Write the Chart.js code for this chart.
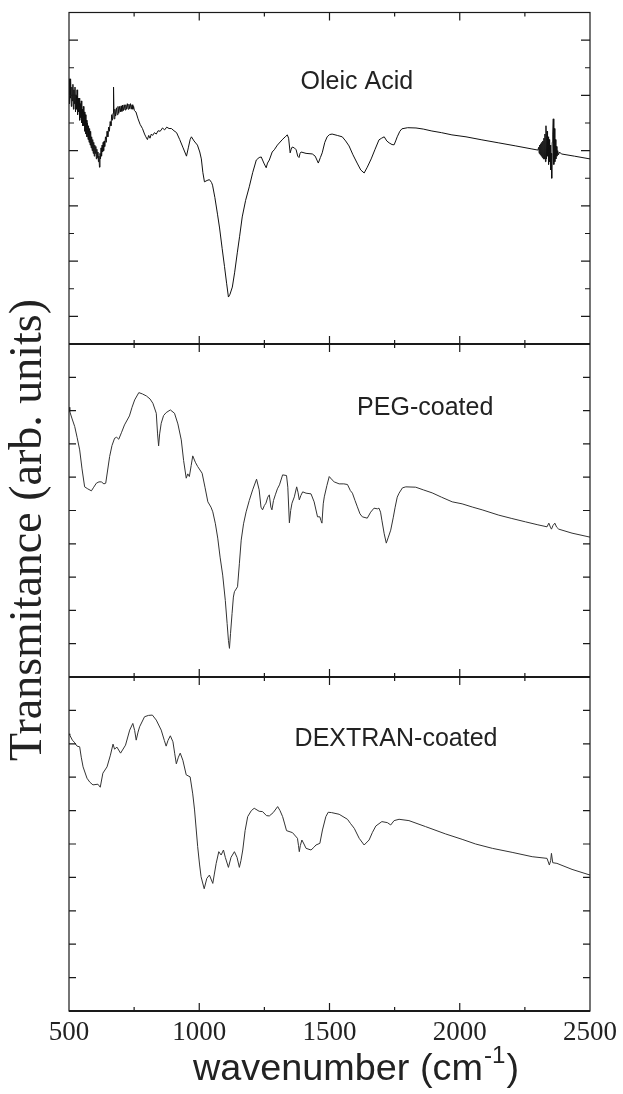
<!DOCTYPE html>
<html lang="en">
<head>
    <meta charset="UTF-8">
    <title>FTIR transmittance</title>
    <script src="https://cdn.jsdelivr.net/npm/chart.js"></script>
    <style>
        body { margin: 0; background: #fff; }
        #wrap { width: 623px; height: 1094px; }
    </style>
</head>
<body>
    <div id="wrap"><canvas id="ftir" width="623" height="1094"></canvas></div>

    <script>
        // wavenumber range and tick step
        const xMin = 500, xMax = 2500, xStep = 250;
        const xLabelStep = 500;

        // panel names (top to bottom)
        const panelNames = ['Oleic Acid', 'PEG-coated', 'DEXTRAN-coated'];
        // y range of each panel (arb. units)
        const panelMax = [12, 10, 10];

        // spectra: [wavenumber, transmittance]
        const oleicAcid = [
            [500, 9.6], [502, 8.7], [504, 9.5], [505, 8.9], [507, 9.6], [509, 8.6], [511, 9.3], [513, 8.8],
            [515, 9.4], [517, 8.5], [519, 9.2], [521, 8.7], [523, 9.3], [525, 8.4], [527, 9.0], [529, 8.5],
            [531, 9.2], [533, 8.3], [535, 8.9], [537, 8.4], [539, 8.9], [541, 8.1], [543, 8.7], [545, 8.2],
            [547, 8.8], [549, 8.0], [551, 8.5], [553, 7.9], [555, 8.6], [557, 7.9], [559, 8.4], [561, 7.7],
            [563, 8.3], [565, 7.6], [567, 8.1], [569, 7.5], [571, 8.0], [573, 7.4], [575, 7.9], [577, 7.3],
            [579, 7.8], [581, 7.2], [583, 7.7], [585, 7.1], [587, 7.5], [589, 7.0], [591, 7.4], [593, 6.9],
            [595, 7.3], [597, 6.8], [599, 7.2], [601, 6.9], [603, 7.15], [605, 6.7], [607, 7.05], [609, 6.75],
            [611, 6.95], [613, 6.6], [615, 6.8], [617, 6.4], [619, 6.9], [621, 6.7], [623, 7.1], [625, 6.8],
            [627, 7.2], [629, 6.95], [631, 7.3], [633, 7.0], [635, 7.35], [637, 7.15], [640, 7.5], [643, 7.3],
            [646, 7.7], [649, 7.5], [652, 7.85], [655, 7.7], [658, 8.05], [661, 7.9], [664, 8.3], [667, 8.1],
            [669, 8.35], [671, 9.3], [673, 8.15], [676, 8.5], [679, 8.25], [682, 8.55], [685, 8.3], [688, 8.6],
            [691, 8.35], [694, 8.6], [697, 8.4], [700, 8.62], [703, 8.42], [706, 8.65], [709, 8.45], [712, 8.66],
            [715, 8.47], [718, 8.66], [721, 8.5], [724, 8.7], [727, 8.5], [730, 8.68], [733, 8.52], [736, 8.7],
            [739, 8.5], [742, 8.66], [745, 8.5], [748, 8.6], [751, 8.45], [757, 8.4], [765, 8.15], [773, 7.95],
            [782, 7.8], [790, 7.6], [795, 7.5], [801, 7.4], [806, 7.55], [811, 7.45], [816, 7.6], [821, 7.55],
            [828, 7.65], [835, 7.6], [842, 7.72], [850, 7.7], [859, 7.82], [867, 7.75], [875, 7.85], [884, 7.8],
            [893, 7.8], [903, 7.72], [913, 7.65], [925, 7.4], [938, 7.1], [951, 6.8], [958, 7.1], [965, 7.4],
            [970, 7.5], [980, 7.35], [993, 7.2], [1002, 6.95], [1008, 6.7], [1014, 6.2], [1020, 5.87], [1030, 5.92],
            [1039, 5.95], [1047, 5.85], [1051, 5.75], [1060, 5.3], [1070, 4.7], [1078, 4.2], [1088, 3.45], [1097, 2.8],
            [1105, 2.2], [1112, 1.7], [1118, 1.8], [1127, 2.06], [1136, 2.6], [1146, 3.3], [1155, 3.9], [1165, 4.6],
            [1178, 5.2], [1192, 5.69], [1205, 6.2], [1219, 6.66], [1230, 6.75], [1238, 6.77], [1248, 6.55], [1257, 6.38],
            [1262, 6.55], [1269, 6.66], [1280, 6.95], [1288, 7.03], [1300, 7.2], [1318, 7.39], [1330, 7.5], [1338, 7.57],
            [1343, 7.45], [1349, 6.92], [1353, 7.05], [1357, 7.13], [1365, 7.1], [1372, 7.03], [1378, 6.8], [1383, 6.75],
            [1387, 6.9], [1391, 6.95], [1410, 6.9], [1434, 6.88], [1445, 6.8], [1457, 6.55], [1465, 6.75], [1472, 6.92],
            [1482, 7.3], [1491, 7.5], [1500, 7.58], [1510, 7.6], [1530, 7.55], [1549, 7.5], [1562, 7.35], [1575, 7.17],
            [1590, 6.85], [1606, 6.55], [1620, 6.3], [1633, 6.19], [1645, 6.4], [1660, 6.7], [1675, 7.05], [1690, 7.39],
            [1700, 7.45], [1710, 7.5], [1720, 7.35], [1729, 7.28], [1740, 7.22], [1748, 7.21], [1754, 7.35], [1760, 7.5],
            [1770, 7.7], [1778, 7.79], [1800, 7.83], [1832, 7.82], [1860, 7.78], [1893, 7.71], [1930, 7.65], [1970, 7.57],
            [2024, 7.5], [2085, 7.39], [2150, 7.28], [2215, 7.17], [2277, 7.06], [2300, 7.02], [2303, 7.12], [2305, 6.9],
            [2307, 7.2], [2309, 6.85], [2311, 7.25], [2313, 6.8], [2315, 7.3], [2317, 6.75], [2319, 7.35], [2321, 6.7],
            [2323, 7.45], [2325, 6.7], [2327, 7.6], [2329, 6.6], [2331, 7.9], [2333, 6.7], [2335, 7.7], [2337, 6.8],
            [2339, 7.5], [2341, 6.5], [2343, 7.4], [2345, 6.6], [2347, 7.2], [2349, 6.3], [2351, 6.9], [2353, 6.0],
            [2355, 7.3], [2357, 7.6], [2359, 8.15], [2361, 6.5], [2363, 7.8], [2365, 6.6], [2367, 7.4], [2369, 6.7],
            [2371, 7.15], [2373, 6.8], [2376, 7.0], [2379, 6.85], [2383, 6.95], [2390, 6.88], [2440, 6.8], [2500, 6.7]
        ];

        const pegCoated = [
            [500, 8.1], [503, 7.97], [512, 7.75], [522, 7.52], [531, 7.2], [541, 6.82], [550, 6.25], [560, 5.71],
            [572, 5.65], [586, 5.59], [595, 5.7], [605, 5.82], [615, 5.86], [624, 5.86], [634, 5.8], [641, 5.82],
            [656, 6.62], [665, 6.95], [675, 7.17], [683, 7.2], [691, 7.14], [702, 7.35], [713, 7.57], [732, 7.84],
            [742, 8.1], [752, 8.32], [768, 8.54], [782, 8.5], [797, 8.44], [811, 8.35], [822, 8.22], [835, 7.92],
            [840, 7.3], [844, 6.94], [848, 7.3], [854, 7.62], [863, 7.85], [873, 7.94], [889, 8.02], [905, 7.92],
            [918, 7.6], [931, 7.12], [940, 6.5], [950, 5.97], [956, 6.1], [962, 6.02], [969, 6.35], [975, 6.64],
            [985, 6.45], [994, 6.32], [1011, 6.12], [1022, 5.7], [1033, 5.26], [1045, 5.1], [1052, 4.96], [1062, 4.6],
            [1071, 4.17], [1080, 3.6], [1090, 3.06], [1100, 2.3], [1107, 1.61], [1112, 1.1], [1116, 0.86], [1120, 1.3],
            [1126, 1.91], [1131, 2.4], [1135, 2.56], [1147, 2.71], [1154, 3.4], [1161, 4.11], [1170, 4.6], [1180, 4.96],
            [1192, 5.3], [1205, 5.62], [1220, 5.94], [1230, 5.62], [1237, 5.1], [1243, 5.02], [1250, 5.15], [1256, 5.22],
            [1263, 5.4], [1269, 5.47], [1275, 5.1], [1279, 5.02], [1285, 5.3], [1292, 5.47], [1300, 5.65], [1308, 5.77],
            [1320, 6.07], [1335, 6.05], [1340, 5.7], [1346, 4.63], [1351, 5.0], [1356, 5.22], [1365, 5.41], [1374, 5.71],
            [1379, 5.55], [1384, 5.32], [1390, 5.45], [1397, 5.56], [1410, 5.52], [1429, 5.5], [1441, 5.26], [1454, 4.81],
            [1463, 4.81], [1467, 4.7], [1471, 4.62], [1476, 5.2], [1480, 5.41], [1490, 5.75], [1499, 6.02], [1510, 5.92],
            [1518, 5.86], [1537, 5.8], [1555, 5.8], [1569, 5.78], [1580, 5.6], [1588, 5.52], [1598, 5.3], [1607, 5.11],
            [1617, 4.9], [1626, 4.81], [1645, 4.77], [1658, 4.95], [1671, 5.07], [1684, 5.05], [1690, 5.07], [1696, 4.95],
            [1701, 4.71], [1710, 4.3], [1718, 4.02], [1726, 4.2], [1735, 4.41], [1745, 4.8], [1752, 5.1], [1760, 5.4],
            [1767, 5.52], [1780, 5.68], [1793, 5.71], [1831, 5.7], [1860, 5.62], [1894, 5.53], [1930, 5.4], [1971, 5.26],
            [2009, 5.2], [2050, 5.1], [2086, 5.02], [2150, 4.86], [2200, 4.76], [2252, 4.66], [2300, 4.57], [2335, 4.51],
            [2342, 4.62], [2348, 4.5], [2352, 4.44], [2358, 4.55], [2365, 4.62], [2372, 4.5], [2380, 4.44], [2431, 4.32],
            [2500, 4.2]
        ];

        const dextranCoated = [
            [500, 8.3], [503, 8.26], [513, 8.11], [520, 8.05], [531, 7.93], [541, 7.91], [547, 7.6], [554, 7.31],
            [569, 6.97], [580, 6.85], [592, 6.77], [611, 6.79], [620, 6.7], [630, 7.12], [646, 7.31], [659, 7.66],
            [669, 7.99], [675, 7.84], [684, 7.9], [698, 7.72], [717, 7.96], [733, 8.41], [745, 8.61], [752, 8.4],
            [758, 8.11], [765, 8.35], [771, 8.51], [790, 8.81], [805, 8.85], [820, 8.86], [835, 8.71], [854, 8.41],
            [866, 8.1], [873, 7.93], [880, 8.1], [889, 8.24], [899, 8.06], [906, 7.7], [912, 7.4], [920, 7.6],
            [927, 7.72], [937, 7.51], [950, 7.07], [965, 7.01], [975, 6.5], [982, 6.02], [994, 4.92], [1001, 4.4],
            [1007, 4.02], [1019, 3.66], [1029, 3.97], [1039, 4.07], [1052, 3.82], [1058, 4.1], [1065, 4.42], [1075, 4.77],
            [1084, 4.67], [1093, 4.82], [1100, 4.6], [1112, 4.3], [1122, 4.6], [1135, 4.77], [1145, 4.6], [1154, 4.3],
            [1160, 4.5], [1167, 4.82], [1176, 5.4], [1186, 5.82], [1200, 6.0], [1211, 6.07], [1230, 5.98], [1243, 5.97],
            [1258, 5.85], [1269, 5.84], [1284, 5.94], [1301, 6.12], [1310, 6.0], [1320, 5.82], [1328, 5.6], [1335, 5.4],
            [1358, 5.34], [1377, 5.17], [1381, 4.95], [1384, 4.77], [1388, 4.95], [1394, 5.12], [1402, 5.0], [1410, 4.87],
            [1429, 4.82], [1440, 4.9], [1448, 4.97], [1463, 5.02], [1473, 5.42], [1486, 5.82], [1495, 5.95], [1508, 5.94],
            [1537, 5.89], [1569, 5.74], [1580, 5.62], [1595, 5.47], [1614, 5.17], [1633, 4.97], [1652, 5.12], [1665, 5.35],
            [1678, 5.54], [1701, 5.67], [1722, 5.64], [1735, 5.57], [1748, 5.7], [1767, 5.74], [1805, 5.7], [1869, 5.52],
            [1946, 5.3], [2009, 5.14], [2061, 5.0], [2125, 4.87], [2201, 4.75], [2278, 4.62], [2335, 4.57], [2344, 4.37],
            [2349, 4.5], [2352, 4.72], [2357, 4.44], [2373, 4.42], [2431, 4.24], [2500, 4.07]
        ];

        const spectra = [oleicAcid, pegCoated, dextranCoated];

        // where each panel name sits (wavenumber, transmittance of its left/middle)
        const nameAnchors = [[1389, 9.49], [1606, 8.08], [1366, 8.14]];

        const axisIds = ['y1', 'y2', 'y3'];
        const panelPx = [331.5, 333, 334];

        // frame, inward ticks and text
        const decorations = {
            id: 'decorations',
            afterDraw(chart) {
                const ctx = chart.ctx;
                const area = chart.chartArea;
                const xs = chart.scales.x;
                const panels = axisIds.map(id => chart.scales[id]);
                ctx.save();
                ctx.strokeStyle = '#1a1a1a';

                ctx.lineWidth = 1.2;
                ctx.strokeRect(area.left, area.top, area.right - area.left, area.bottom - area.top);

                ctx.lineWidth = 2;
                ctx.beginPath();
                panels.slice(1).forEach(s => {
                    ctx.moveTo(area.left, s.top);
                    ctx.lineTo(area.right, s.top);
                });
                ctx.moveTo(area.left, area.bottom);
                ctx.lineTo(area.right, area.bottom);
                ctx.stroke();

                ctx.lineWidth = 1.2;
                ctx.beginPath();
                panels.forEach((s, i) => {
                    xs.ticks.forEach(t => {
                        if (t.value <= xMin || t.value >= xMax) return;
                        const px = xs.getPixelForValue(t.value);
                        const len = t.value % xLabelStep === 0 ? 8 : 4;
                        ctx.moveTo(px, s.top);
                        ctx.lineTo(px, s.top + len);
                        ctx.moveTo(px, s.bottom);
                        ctx.lineTo(px, s.bottom - len);
                    });
                    s.ticks.forEach(t => {
                        if (t.value <= s.min || t.value >= s.max) return;
                        const py = s.getPixelForValue(t.value);
                        let len = 7;
                        if (i === 0) len = t.value % 2 === 1 ? 9 : 5;
                        ctx.moveTo(area.left, py);
                        ctx.lineTo(area.left + len, py);
                        ctx.moveTo(area.right, py);
                        ctx.lineTo(area.right - len, py);
                    });
                });
                ctx.stroke();

                // panel names
                ctx.fillStyle = '#222';
                ctx.font = '25px "Liberation Sans", Arial, sans-serif';
                ctx.textAlign = 'left';
                ctx.textBaseline = 'middle';
                panelNames.forEach((name, i) => {
                    const a = nameAnchors[i];
                    ctx.fillText(name, xs.getPixelForValue(a[0]), panels[i].getPixelForValue(a[1]));
                });

                // y title
                ctx.save();
                ctx.translate(41, 530);
                ctx.rotate(-Math.PI / 2);
                ctx.font = '46px "Liberation Serif", "Times New Roman", serif';
                ctx.textAlign = 'center';
                ctx.textBaseline = 'alphabetic';
                ctx.fillText('Transmitance (arb. units)', 0, 0);
                ctx.restore();

                // x title with superscript
                ctx.save();
                ctx.translate(193, 1080);
                ctx.scale(1.05, 1);
                ctx.textAlign = 'left';
                ctx.textBaseline = 'alphabetic';
                ctx.font = '36px "Liberation Sans", Arial, sans-serif';
                const main = 'wavenumber (cm';
                ctx.fillText(main, 0, 0);
                let cx = ctx.measureText(main).width + 1;
                ctx.font = '23px "Liberation Sans", Arial, sans-serif';
                ctx.fillText('-1', cx, -17);
                cx += ctx.measureText('-1').width + 1;
                ctx.font = '36px "Liberation Sans", Arial, sans-serif';
                ctx.fillText(')', cx, 0);
                ctx.restore();

                ctx.restore();
            }
        };

        const scales = {
            x: {
                type: 'linear',
                position: 'bottom',
                min: xMin,
                max: xMax,
                grid: { display: false, drawTicks: false },
                border: { display: false },
                ticks: {
                    stepSize: xStep,
                    autoSkip: false,
                    maxRotation: 0,
                    padding: 6,
                    color: '#222',
                    font: { family: '"Liberation Serif", "Times New Roman", serif', size: 27 },
                    callback: v => (v % xLabelStep === 0 ? String(v) : '')
                },
                afterFit: s => { s.height = 83; }
            }
        };
        axisIds.forEach((id, i) => {
            scales[id] = {
                type: 'linear',
                position: 'left',
                stack: 'panels',
                stackWeight: panelPx[i],
                weight: 3 - i,
                min: 0,
                max: panelMax[i],
                grid: { display: false, drawTicks: false },
                border: { display: false },
                ticks: { display: false, stepSize: 1 },
                afterFit: s => { s.width = 0; }
            };
        });

        new Chart(document.getElementById('ftir'), {
            type: 'line',
            data: {
                datasets: spectra.map((pts, i) => ({
                    label: panelNames[i],
                    data: pts.map(p => ({ x: p[0], y: p[1] })),
                    yAxisID: axisIds[i],
                    borderColor: i === 0 ? '#111' : '#333',
                    borderWidth: 1,
                    pointRadius: 0,
                    tension: 0,
                    fill: false
                }))
            },
            options: {
                responsive: false,
                animation: false,
                devicePixelRatio: 1,
                layout: { padding: { left: 69, right: 31.7, top: 12.5, bottom: 0 } },
                plugins: { legend: { display: false }, tooltip: { enabled: false } },
                scales: scales
            },
            plugins: [decorations]
        });
    </script>
</body>
</html>
